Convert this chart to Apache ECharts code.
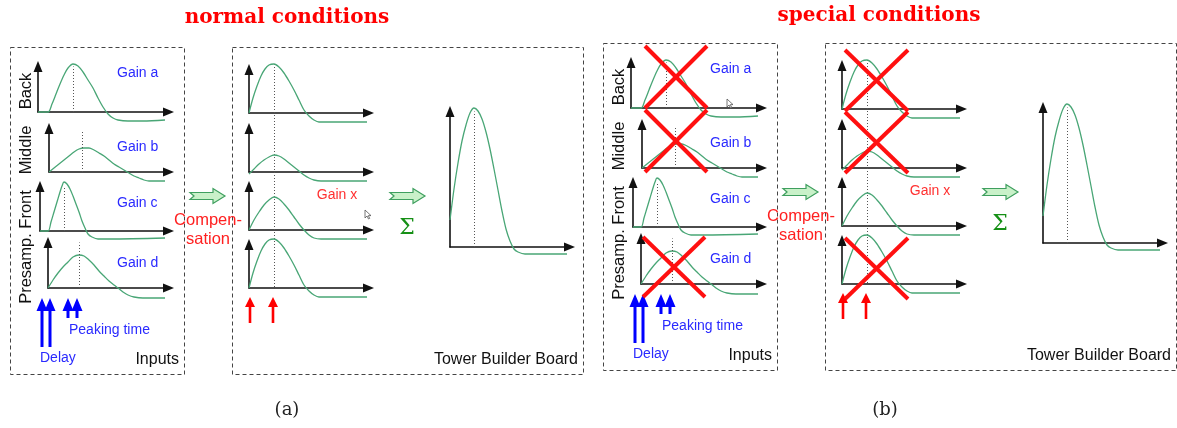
<!DOCTYPE html>
<html><head><meta charset="utf-8">
<script src="https://cdn.jsdelivr.net/npm/echarts@6/dist/echarts.min.js"></script>
<style>html,body{margin:0;padding:0;background:#fff}#c{width:1177px;height:428px}</style>
</head><body><div id="c"></div><script>
// ---- data: pulse shapes, [time, amplitude] ----
const pulseBack    = [[0,0],[10,0],[14,8],[18,18],[22,28],[26,37],[30,44],[35,48],[40,46],[45,40],[50,32],[55,24],[60,14],[65,5],[70,-2],[75,-6],[80,-8],[90,-9],[105,-9],[127,-8]];
const pulseMiddle  = [[0,0],[5,4],[10,8],[15,12],[20,16],[25,20],[30,23],[35,24],[40,24],[45,22],[50,19],[55,16],[60,12],[65,8],[70,5],[75,2],[80,-1],[85,-4],[90,-6],[95,-8],[100,-9],[116,-9]];
const pulseFront   = [[0,0],[8,0],[11,9],[14,19],[17,29],[20,39],[22,45],[24,49],[27,47],[30,42],[33,35],[36,27],[39,19],[42,10],[45,3],[48,-3],[52,-6],[58,-8],[70,-8],[125,-7]];
const pulsePresamp = [[0,0],[5,8],[10,15],[15,21],[20,26],[25,31],[31,33],[36,32],[41,28],[46,23],[51,17],[56,12],[61,7],[66,3],[70,0],[75,-4],[80,-7],[86,-9],[95,-10],[117,-10]];
const towerBack    = [[0,0],[4,15],[8,27],[12,37],[16,44],[20,48],[25,49],[30,46],[35,40],[40,32],[45,23],[50,13],[55,3],[60,-3],[65,-7],[70,-9],[80,-9],[118,-9]];
const towerMiddle  = [[0,-2],[5,3],[10,8],[15,12],[20,15],[25,17],[30,16],[35,13],[40,9],[45,5],[50,1],[55,-3],[60,-6],[65,-8],[72,-9],[118,-9]];
const towerFront   = [[0,0],[5,10],[10,18],[15,25],[20,30],[25,33],[30,31],[35,26],[40,20],[45,13],[50,6],[55,0],[60,-5],[65,-8],[72,-9],[118,-9]];
const towerPresamp = [[0,0],[4,15],[8,27],[12,37],[16,44],[20,48],[25,49],[30,46],[35,40],[40,32],[45,23],[50,13],[55,3],[60,-3],[65,-7],[70,-9],[80,-9],[118,-9]];
const towerSum     = [[0,27],[4,58],[8,84],[12,106],[16,122],[20,134],[24,139],[28,136],[32,128],[36,115],[40,98],[44,78],[48,57],[52,36],[56,18],[60,6],[64,-2],[68,-5],[75,-7],[117,-7]];
const peakInputs = [35, 33, 24, 31];
const peakTower = 25, peakSum = 24;
const layerNames = ['Back', 'Middle', 'Presamp. Front'];
const gainNames = ['Gain a', 'Gain b', 'Gain c', 'Gain d'];
const titles = ['normal conditions', 'special conditions'];
const panelTags = ['(a)', '(b)'];

// ---- layout ----
const AL = 11;
const inputsLayout = [
  {ox:38, oy:112, xt:174, yt:61, top:48},
  {ox:49, oy:172, xt:174, yt:123, top:40},
  {ox:40, oy:231, xt:174, yt:181, top:49},
  {ox:48, oy:288, xt:174, yt:237, top:50}
];
const inputsData = [pulseBack, pulseMiddle, pulseFront, pulsePresamp];
const towerLayout = [
  {ox:249, oy:113, xt:374, yt:64},
  {ox:249, oy:172, xt:374, yt:123},
  {ox:249, oy:230, xt:374, yt:181},
  {ox:249, oy:288, xt:374, yt:239}
];
const towerData = [towerBack, towerMiddle, towerFront, towerPresamp];
const sumLayout = {ox:450, oy:247, xt:575, yt:106, top:140};

const grids=[], xAxes=[], yAxes=[], series=[], graphics=[];
const GREEN='#49a676';
const DOT = {type:[1,2], color:'#555', width:1};
function addPlot(p, data, peak, dx, dy) {
  const i = grids.length;
  const w = p.xt - AL/2 - p.ox, h = p.oy - p.yt - AL/2;
  grids.push({left: p.ox+dx, top: p.yt+dy+AL/2, width: w, height: h});
  const axisLine = {show:true, onZero:true, symbol:['none','triangle'], symbolSize:[9, AL], lineStyle:{color:'#111', width:1.6}};
  const common = {type:'value', gridIndex:i, axisLine, axisTick:{show:false}, axisLabel:{show:false}, splitLine:{show:false}};
  xAxes.push(Object.assign({min:0, max:w}, common));
  yAxes.push(Object.assign({min:0, max:h}, common));
  const s = {type:'line', xAxisIndex:i, yAxisIndex:i, data:data, smooth:0.3, symbol:'none', clip:false,
    lineStyle:{color:GREEN, width:1.3}, z:3};
  if (peak != null) {
    s.markLine = {silent:true, symbol:['none','none'], label:{show:false}, animation:false, lineStyle:DOT,
      data:[[{coord:[peak,0]},{coord:[peak,Math.min(p.top, h)]}]]};
  }
  series.push(s);
  return i;
}
function txt(x, y, text, font, fill, align, extra) {
  graphics.push(Object.assign({type:'text', x, y, z:10, style:{text, font, fill, align:align||'left', textAlign:align||'left', verticalAlign:'middle', textVerticalAlign:'middle'}}, extra||{}));
}
function box(x1, y1, x2, y2) {
  graphics.push({type:'rect', shape:{x:x1+0.5, y:y1+0.5, width:x2-x1, height:y2-y1}, style:{fill:'none', stroke:'#444', lineWidth:1, lineDash:[4,3]}, z:1});
}
function upArrow(x, tip, bottom, hw, hh, sw, color) {
  graphics.push({type:'polygon', z:5, shape:{points:[[x-sw/2,bottom],[x-sw/2,tip+hh],[x-hw/2,tip+hh],[x,tip],[x+hw/2,tip+hh],[x+sw/2,tip+hh],[x+sw/2,bottom]]}, style:{fill:color}});
}
function fatArrow(x, y) {
  graphics.push({type:'polygon', z:5, shape:{points:[[x,y-3.5],[x+23,y-3.5],[x+23,y-7.5],[x+35,y],[x+23,y+7.5],[x+23,y+3.5],[x,y+3.5],[x+4,y]]}, style:{fill:'#c9f1c9', stroke:'#3f9f5f', lineWidth:1.2}});
}
function cross(x1, y1, x2, y2) {
  graphics.push({type:'line', z:8, shape:{x1, y1, x2, y2}, style:{stroke:'#ff1010', lineWidth:4}});
  graphics.push({type:'line', z:8, shape:{x1:x2, y1, x2:x1, y2}, style:{stroke:'#ff1010', lineWidth:4}});
}
function cursor(x, y) {
  graphics.push({type:'polygon', z:9, shape:{points:[[x,y],[x,y+8],[x+2,y+6],[x+3.5,y+9],[x+4.7,y+8.4],[x+3.3,y+5.6],[x+6,y+5.6]]}, style:{fill:'#fff', stroke:'#555', lineWidth:0.8}});
}

const SANS = '"Liberation Sans", Arial, sans-serif';
const towerSpans = [];
function panel(k, dx, dy) {
  inputsLayout.forEach((p, j) => addPlot(p, inputsData[j], peakInputs[j], dx, dy));
  const tIdx = towerLayout.map((p, j) => addPlot(p, towerData[j], null, dx, dy));
  towerSpans.push([tIdx[0], tIdx[tIdx.length-1]]);
  addPlot(sumLayout, towerSum, peakSum, dx, dy);
  box(10+dx, 47+dy, 184+dx, 374+dy);
  box(232+dx, 47+dy, 583+dx, 374+dy);
  const ly = [91, 150, 247];
  layerNames.forEach((n, j) => txt(26+dx, ly[j]+dy, n, '16.5px '+SANS, '#111', 'center', {rotation:Math.PI/2}));
  const gy = [73, 147, 203, 263];
  gainNames.forEach((n, j) => txt(117+dx, gy[j]+dy, n, '14px '+SANS, '#2a2aff', 'left'));
  upArrow(42+dx, 298+dy, 347+dy, 11, 13, 3, '#0000ff');
  upArrow(50+dx, 298+dy, 347+dy, 11, 13, 3, '#0000ff');
  upArrow(68+dx, 298+dy, 318+dy, 11, 13, 3, '#0000ff');
  upArrow(77+dx, 298+dy, 318+dy, 11, 13, 3, '#0000ff');
  txt(69+dx, 330+dy, 'Peaking time', '14px '+SANS, '#2a2aff', 'left');
  txt(40+dx, 358+dy, 'Delay', '14px '+SANS, '#2a2aff', 'left');
  txt(179+dx, 360+dy, 'Inputs', '16px '+SANS, '#111', 'right');
  txt(578+dx, 360+dy, 'Tower Builder Board', '16px '+SANS, '#111', 'right');
  fatArrow(190+dx, 196+dy);
  fatArrow(390+dx, 196+dy);
  txt(208+dx, 220+dy, 'Compen-', '16.5px '+SANS, '#ff2020', 'center');
  txt(208+dx, 239+dy, 'sation', '16.5px '+SANS, '#ff2020', 'center');
  txt(337+dx, 195+dy, 'Gain x', '14px '+SANS, '#ff3030', 'center');
  txt(407+dx, 228+dy, 'Σ', '22px "DejaVu Serif", serif', '#169016', 'center');
  upArrow(250+dx, 297+dy, 323+dy, 10, 10, 2.6, '#ff0000');
  upArrow(273+dx, 297+dy, 323+dy, 10, 10, 2.6, '#ff0000');
}
panel(0, 0, 0);
panel(1, 593, -4);
txt(287, 18, titles[0], 'bold 20px "DejaVu Serif", serif', '#ff0000', 'center');
txt(879, 16, titles[1], 'bold 20px "DejaVu Serif", serif', '#ff0000', 'center');
txt(287, 410, panelTags[0], '18px "DejaVu Serif", serif', '#222', 'center');
txt(885, 410, panelTags[1], '18px "DejaVu Serif", serif', '#222', 'center');
cursor(365, 210);
cursor(727, 99);
cross(645, 46, 707, 108);
cross(645, 110, 707, 172);
cross(643, 237, 705, 297);
cross(845, 50, 908, 111);
cross(845, 112, 908, 173);
cross(845, 238, 908, 299);

const chart = echarts.init(document.getElementById('c'));
chart.setOption({animation:false, backgroundColor:'#fff', grid:grids, xAxis:xAxes, yAxis:yAxes, series, graphic:{elements:graphics}});
// continuous dotted peaking-time line through the four tower plots, placed via the axes' scales
const extra = towerSpans.map(([a, b], k) => {
  const top = chart.convertToPixel({gridIndex:a}, [peakTower, towerBack[6][1]]);
  const bot = chart.convertToPixel({gridIndex:b}, [peakTower, 0]);
  return {type:'line', z:2, shape:{x1:Math.round(top[0])+0.5, y1:top[1], x2:Math.round(bot[0])+0.5, y2:bot[1]}, style:{stroke:'#555', lineWidth:1, lineDash:[1,2]}};
});
chart.setOption({graphic:{elements:graphics.concat(extra)}});
</script></body></html>
